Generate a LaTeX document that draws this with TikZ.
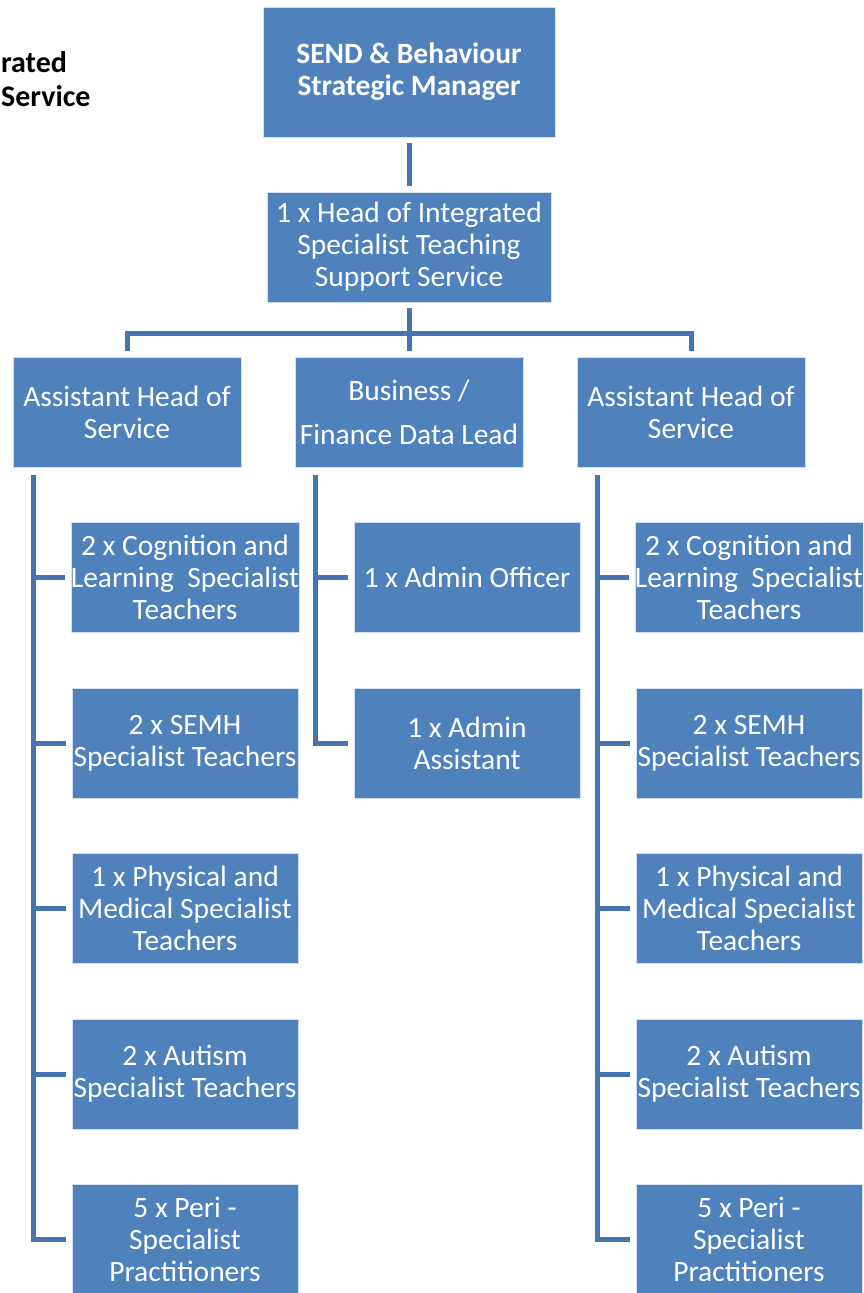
\documentclass[tikz,border=0pt]{standalone}
\usepackage{fontspec}
\setmainfont{Carlito}
\usetikzlibrary{calc}
\definecolor{boxblue}{HTML}{4F81BD}
\definecolor{lineblue}{HTML}{4674B0}
\tikzset{
  box/.style={fill=boxblue, draw=white!75!boxblue, line width=0.6pt, inner sep=0pt,
    text=white, align=center, font=\fontsize{29.5}{32}\selectfont,
    minimum width=226pt, minimum height=110pt},
  boldbox/.style={box, font=\fontsize{29.5}{32}\selectfont\bfseries},
  conn/.style={draw=lineblue, line width=5pt, line join=miter, line cap=butt},
  title/.style={anchor=base west, inner sep=0pt, font=\fontsize{30}{32}\selectfont\bfseries}
}
\begin{document}
\begin{tikzpicture}[x=1pt,y=-1pt]
\useasboundingbox (0,0) rectangle (863,1293);
\clip (0,0) rectangle (863,1293);
\fill[white] (0,0) rectangle (863,1293);

\node[title] (t1) at (1,72) {rated};
\node[title] (t2) at (1,106) {Service};

\node[boldbox, minimum width=292pt, minimum height=130pt] (top) at (409,72) {SEND \& Behaviour\\Strategic Manager};
\node[box, minimum width=284pt, minimum height=110pt] (head) at (409,247) {1 x Head of Integrated\\Specialist Teaching\\Support Service};

\node[box, minimum width=228pt] (ahl) at (127,412) {Assistant Head of\\Service};
\node[box, minimum width=228pt] (bfl) at (409,412) {Business /\\[12pt]Finance Data Lead};
\node[box, minimum width=228pt] (ahr) at (691,412) {Assistant Head of\\Service};

\foreach \side/\x in {l/185, r/749}{
  \node[box] (\side1) at (\x,577.5) {2 x Cognition and\\Learning\ \ Specialist\\Teachers};
  \node[box] (\side2) at (\x,743) {2 x SEMH\\Specialist Teachers};
  \node[box] (\side3) at (\x,908) {1 x Physical and\\Medical Specialist\\Teachers};
  \node[box] (\side4) at (\x,1074) {2 x Autism\\Specialist Teachers};
  \node[box] (\side5) at (\x,1239) {5 x Peri -\\Specialist\\Practitioners};
}
\node[box] (m1) at (467,577.5) {1 x Admin Officer};
\node[box] (m2) at (467,743) {1 x Admin\\Assistant};

% top connectors
\draw[conn] ($(top.south)+(0,6)$) -- ($(head.north)+(0,-6)$);
\coordinate (bus) at (409,333);
\draw[conn] ($(head.south)+(0,6)$) -- (bus);
\draw[conn] ($(ahl.north)+(0,-6)$) |- (bus) -| ($(ahr.north)+(0,-6)$);
\draw[conn] (bus) -- ($(bfl.north)+(0,-6)$);

% left column
\coordinate (lv) at ($(ahl.south west)+(21,8)$);
\draw[conn] (lv) |- ($(l5.west)+(-6,0)$);
\foreach \i in {1,...,4}{
  \draw[conn] (lv |- l\i.west) -- ($(l\i.west)+(-6,0)$);
}
% middle column
\coordinate (mv) at ($(bfl.south west)+(21,8)$);
\draw[conn] (mv) |- ($(m2.west)+(-6,0)$);
\draw[conn] (mv |- m1.west) -- ($(m1.west)+(-6,0)$);
% right column
\coordinate (rv) at ($(ahr.south west)+(21,8)$);
\draw[conn] (rv) |- ($(r5.west)+(-6,0)$);
\foreach \i in {1,...,4}{
  \draw[conn] (rv |- r\i.west) -- ($(r\i.west)+(-6,0)$);
}
\end{tikzpicture}
\end{document}
